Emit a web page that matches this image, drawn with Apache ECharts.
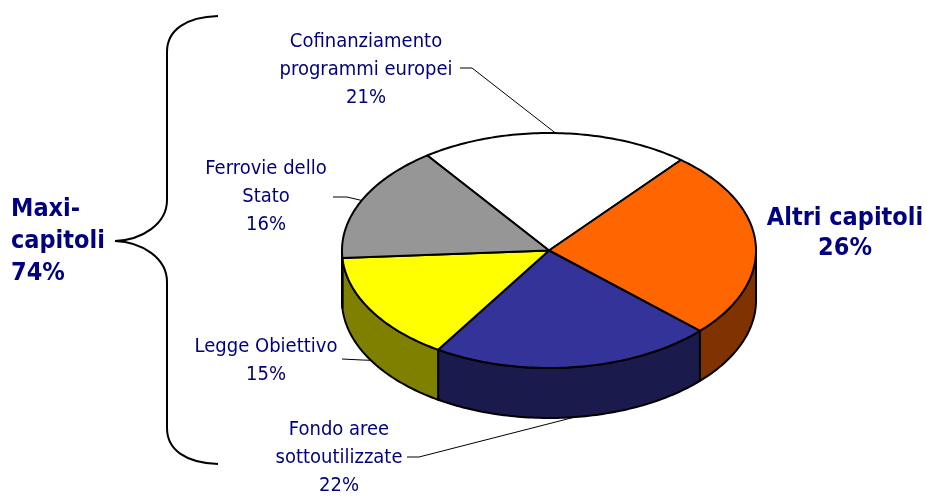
<!DOCTYPE html>
<html style="height: 100%">
<head>
    <meta charset="utf-8">
    <style type="text/css">
        #container{width: 927px;height:496px;}
    </style>
</head>
<body style="height: 100%; margin: 0; background:#fff">
<div id="container"></div>
<script src="https://cdn.jsdelivr.net/npm/echarts@6/dist/echarts.min.js"></script>
<script type="text/javascript">
    // dati (percentuali)
    var categories = ['Cofinanziamento\nprogrammi europei', 'Altri capitoli', 'Fondo aree\nsottoutilizzate', 'Legge Obiettivo', 'Ferrovie dello\nStato'];
    var values = [21, 26, 22, 15, 16];
    var groupName = 'Maxi-\ncapitoli';
    var groupMembers = [0, 2, 3, 4];

    var topColors = ['#FFFFFF', '#FF6600', '#333399', '#FFFF00', '#969696'];
    var sideColors = ['#808080', '#803300', '#1A1A4D', '#808000', '#4B4B4B'];

    // geometria della torta "3D"
    var cx = 549, cy = 250.5, rx = 207, ry = 117.5, depth = 50;
    var startAngle = -36; // gradi, in senso orario dalle ore 12

    // posizione etichette e attacco delle linee guida
    var labelPos = [[366, 70], [845, 233.5], [339, 458], [266, 360.5], [266, 197]];
    var lineStart = [[[460, 68], [472, 68]], null, [[407, 457], [419, 457]], [[342, 359], [362, 360]], [[333, 197], [347, 197]]];

    var navy = '#000080';
    var font = "'DejaVu Sans Condensed', 'DejaVu Sans', sans-serif";

    var total = values.reduce(function (a, b) { return a + b; }, 0);
    var angles = [];
    var acc = startAngle;
    values.forEach(function (v) {
        var span = v / total * 360;
        angles.push([acc, acc + span]);
        acc += span;
    });
    var groupTotal = groupMembers.reduce(function (s, i) { return s + values[i]; }, 0);

    function pt(a, dy) {
        var r = a * Math.PI / 180;
        return [cx + rx * Math.sin(r), cy - ry * Math.cos(r) + (dy || 0)];
    }
    function arc(a0, a1, dy) {
        var pts = [];
        var n = Math.max(2, Math.ceil(Math.abs(a1 - a0)));
        for (var k = 0; k <= n; k++) pts.push(pt(a0 + (a1 - a0) * k / n, dy));
        return pts;
    }

    // graffa a sinistra
    var braceStyle = { fill: null, stroke: '#000', lineWidth: 2 };
    function bez(p0, c1, c2, p1) {
        return { type: 'bezierCurve', shape: { x1: p0[0], y1: p0[1], cpx1: c1[0], cpy1: c1[1], cpx2: c2[0], cpy2: c2[1], x2: p1[0], y2: p1[1] }, style: braceStyle };
    }
    function seg(p0, p1) {
        return { type: 'line', shape: { x1: p0[0], y1: p0[1], x2: p1[0], y2: p1[1] }, style: braceStyle };
    }

    var dom = document.getElementById("container");
    var myChart = echarts.init(dom);

    var option = {
        backgroundColor: '#FFFFFF',
        animation: false,
        graphic: [
            bez([218, 16], [186, 17], [167, 30], [167, 52]),
            seg([167, 52], [167, 200]),
            bez([167, 200], [167, 224], [142, 240], [115, 241]),
            bez([115, 241], [142, 242], [167, 258], [167, 282]),
            seg([167, 282], [167, 428]),
            bez([167, 428], [167, 450], [186, 463], [218, 464]),
            {
                type: 'text',
                style: {
                    text: groupName + '\n' + groupTotal + '%',
                    x: 11, y: 241,
                    fill: navy,
                    font: 'bold 25px ' + font,
                    align: 'left', verticalAlign: 'middle',
                    lineHeight: 32
                }
            }
        ],
        series: [{
            type: 'custom',
            coordinateSystem: 'none',
            data: values.map(function (v, i) { return { name: categories[i], value: v }; }),
            renderItem: function (params, api) {
                var i = params.dataIndex;
                var a0 = angles[i][0], a1 = angles[i][1];
                var children = [];
                // parete laterale visibile (tra le ore 3 e le ore 9)
                var s0 = Math.max(a0, 90), s1 = Math.min(a1, 270);
                if (s1 > s0) {
                    var side = arc(s0, s1, 0).concat(arc(s1, s0, depth));
                    children.push({
                        type: 'polygon',
                        shape: { points: side },
                        style: { fill: sideColors[i], stroke: '#000', lineWidth: 2, lineJoin: 'round' }
                    });
                }
                // faccia superiore
                var top = [[cx, cy]].concat(arc(a0, a1, 0));
                children.push({
                    type: 'polygon',
                    shape: { points: top },
                    style: { fill: topColors[i], stroke: '#000', lineWidth: 2, lineJoin: 'round' }
                });
                // linea guida
                if (lineStart[i]) {
                    var mid = (a0 + a1) / 2;
                    var front = mid > 90 && mid < 270;
                    var end = pt(mid, front ? depth : 0);
                    children.push({
                        type: 'polyline',
                        shape: { points: lineStart[i].concat([end]) },
                        style: { fill: null, stroke: '#000', lineWidth: 1 }
                    });
                }
                // etichetta
                var bold = i === 1;
                children.push({
                    type: 'text',
                    style: {
                        text: categories[i] + '\n' + values[i] + '%',
                        x: labelPos[i][0], y: labelPos[i][1],
                        fill: navy,
                        font: (bold ? 'bold 25px ' : '20px ') + font,
                        align: 'center', verticalAlign: 'middle',
                        lineHeight: bold ? 29.5 : 28
                    }
                });
                return { type: 'group', children: children };
            }
        }]
    };
    myChart.setOption(option);
</script>
</body>
</html>
